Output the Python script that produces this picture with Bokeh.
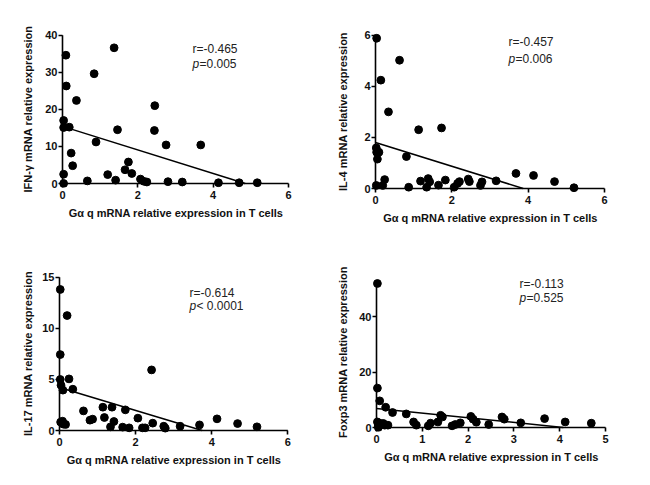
from bokeh.plotting import figure
from bokeh.layouts import column, row
from bokeh.models import FixedTicker, Label, Range1d
from bokeh.embed import file_html
from bokeh.resources import INLINE

FONT = "Liberation Sans"
X_TITLE = "Gα q mRNA relative expression in T cells"

# ---------------- data ----------------
ifn_x = [0.09, 0.10, 0.37, 0.03, 0.03, 0.18, 0.23, 0.27, 0.03, 0.03, 1.37, 0.84, 0.89, 0.66,
         1.20, 1.41, 1.46, 1.66, 1.75, 1.84, 2.07, 2.16, 2.24, 2.45, 2.44, 2.75, 2.80, 3.18,
         3.67, 4.14, 4.69, 5.17]
ifn_y = [34.6, 26.3, 22.4, 17.0, 15.1, 15.2, 8.2, 4.8, 2.5, 0.0, 36.6, 29.6, 11.2, 0.7,
         2.4, 0.9, 14.5, 3.7, 5.8, 2.7, 1.2, 0.6, 0.4, 21.0, 14.3, 10.4, 0.5, 0.4,
         10.4, 0.2, 0.2, 0.2]
ifn_fit_x = [0.0, 4.85]
ifn_fit_y = [15.4, 0.0]

il4_x = [0.03, 0.63, 0.14, 0.34, 1.13, 1.73, 0.02, 0.03, 0.09, 0.05, 0.81, 0.02, 0.19, 0.24,
         0.87, 1.18, 1.38, 1.42, 1.34, 1.65, 1.83, 2.06, 2.15, 2.20, 2.43, 2.46, 2.75, 2.79,
         3.16, 3.68, 4.14, 4.69, 5.20]
il4_y = [5.88, 5.02, 4.24, 3.00, 2.30, 2.37, 1.59, 1.42, 1.42, 1.15, 1.25, 0.12, 0.12, 0.35,
         0.05, 0.29, 0.39, 0.26, 0.05, 0.13, 0.33, 0.05, 0.20, 0.27, 0.37, 0.27, 0.12, 0.26,
         0.30, 0.59, 0.51, 0.27, 0.03]
il4_fit_x = [0.0, 3.87]
il4_fit_y = [1.80, 0.0]

il17_x = [0.02, 0.20, 0.02, 0.02, 0.25, 0.04, 0.09, 0.35, 0.03, 0.08, 0.10, 0.16, 0.63, 0.80,
          0.87, 1.14, 1.18, 1.38, 1.43, 1.34, 1.66, 1.73, 1.83, 2.06, 2.18, 2.25, 2.45, 2.42,
          2.74, 2.78, 3.17, 3.68, 4.14, 4.68, 5.19]
il17_y = [13.8, 11.25, 7.43, 4.99, 5.05, 4.43, 3.95, 4.04, 0.82, 0.91, 0.62, 0.59, 1.92, 1.01,
          1.11, 2.28, 1.27, 2.28, 0.88, 0.36, 0.33, 2.02, 0.26, 1.21, 0.26, 0.26, 0.72, 5.93,
          0.42, 0.23, 0.42, 0.55, 1.14, 0.68, 0.36]
il17_fit_x = [0.0, 3.75]
il17_fit_y = [4.2, 0.0]

foxp3_x = [0.02, 0.02, 0.07, 0.20, 0.35, 0.65, 0.02, 0.04, 0.09, 0.15, 0.18, 0.25, 0.04, 0.81,
           0.87, 1.13, 1.18, 1.34, 1.40, 1.44, 1.65, 1.72, 1.83, 2.06, 2.11, 2.18, 2.45, 2.74,
           2.79, 3.15, 3.67, 4.12, 4.69]
foxp3_y = [51.9, 14.2, 9.6, 7.3, 5.4, 4.9, 2.0, 0.84, 1.44, 1.44, 0.84, 0.84, 0.0, 2.0,
           0.84, 0.6, 1.56, 2.0, 4.4, 3.8, 0.6, 1.08, 1.68, 4.0, 3.0, 1.9, 1.08, 3.8,
           3.0, 1.68, 3.2, 2.0, 1.56]
foxp3_fit_x = [0.0, 4.08]
foxp3_fit_y = [6.85, 0.0]

ticks_x6 = [0, 2, 4, 6]
ticks_x5 = [0, 1, 2, 3, 4, 5]
ticks_ifn = [0, 10, 20, 30, 40]
ticks_il4 = [0, 2, 4, 6]
ticks_il17 = [0, 5, 10, 15]
ticks_foxp3 = [0, 20, 40]

PAD = 4  # px between frame edge and the zero axes (= tick length)


def panel(x, y, fx, fy, ylabel, xticks, yticks, xmax, ymax, r_txt, p_txt,
          fig_l, fig_t, fig_r, fig_b, fr_t,
          x0px, sx, y0px, sy, txt_px, r_py, p_py, ylab_standoff):
    fr_l = x0px - PAD
    fr_b = y0px + PAD
    fr_r = int(round(x0px + xmax * sx + 5))
    fr_w = fr_r - fr_l
    fr_h = fr_b - fr_t
    x_start = -PAD / sx
    x_end = (fr_r - x0px) / sx
    y_start = -PAD / sy
    y_end = (y0px - fr_t) / sy
    p = figure(frame_width=fr_w, frame_height=fr_h,
               x_range=Range1d(x_start, x_end), y_range=Range1d(y_start, y_end),
               min_border_left=fr_l - fig_l, min_border_top=fr_t - fig_t,
               min_border_right=fig_r - fr_r, min_border_bottom=fig_b - fr_b,
               toolbar_location=None, output_backend="svg")
    p.grid.grid_line_color = None
    p.outline_line_color = None

    p.xaxis.bounds = (0, xmax)
    p.yaxis.bounds = (0, ymax)
    p.xaxis.ticker = FixedTicker(ticks=xticks)
    p.yaxis.ticker = FixedTicker(ticks=yticks)
    for ax in (p.xaxis, p.yaxis):
        ax.axis_line_color = None
        ax.major_tick_line_width = 1.6
        ax.major_tick_line_color = "black"
        ax.major_tick_out = 0
        ax.major_tick_in = PAD
        ax.minor_tick_line_color = None
        ax.major_label_text_font = FONT
        ax.major_label_text_font_style = "bold"
        ax.major_label_text_font_size = "11px"
        ax.major_label_text_color = "#111111"
        ax.axis_label_text_font = FONT
        ax.axis_label_text_font_style = "bold"
        ax.axis_label_text_font_size = "11px"
        ax.axis_label_text_color = "#111111"
    p.xaxis.major_label_standoff = 3
    p.yaxis.major_label_standoff = 1
    p.xaxis.axis_label = X_TITLE
    p.yaxis.axis_label = ylabel
    p.xaxis.axis_label_standoff = 5
    p.yaxis.axis_label_standoff = ylab_standoff

    # the zero axes themselves
    p.segment(x0=[0, 0], y0=[0, 0], x1=[xmax, 0], y1=[0, ymax],
              line_color="black", line_width=1.6)

    p.line(fx, fy, line_color="black", line_width=1.5)
    p.scatter(x, y, size=7.8, fill_color="black", line_color="black")

    tx = (txt_px - x0px) / sx
    p.add_layout(Label(x=tx, y=(y0px - r_py) / sy, text=r_txt, text_font=FONT,
                       text_font_size="12px", text_color="#222222",
                       text_baseline="middle", text_align="left"))
    p.add_layout(Label(x=tx, y=(y0px - p_py) / sy, text="p", text_font=FONT,
                       text_font_style="italic",
                       text_font_size="12px", text_color="#222222",
                       text_baseline="middle", text_align="left"))
    p.add_layout(Label(x=tx, y=(y0px - p_py) / sy, x_offset=7, text=p_txt, text_font=FONT,
                       text_font_size="12px", text_color="#222222",
                       text_baseline="middle", text_align="left"))
    return p


# page coordinates: the layout starts at page (0, 0)
p1 = panel(ifn_x, ifn_y, ifn_fit_x, ifn_fit_y, "IFN-γ mRNA relative expression",
           ticks_x6, ticks_ifn, 6, 40, "r=-0.465", "=0.005",
           0, 0, 318, 245, 30,
           62, 37.67, 183, 3.7075, 192, 48, 63, 8)
p2 = panel(il4_x, il4_y, il4_fit_x, il4_fit_y, "IL-4 mRNA relative expression",
           ticks_x6, ticks_il4, 6, 6, "r=-0.457", "=0.006",
           318, 0, 642, 245, 26,
           375, 38.17, 184, 25.55, 508, 37, 54, 12)
p3 = panel(il17_x, il17_y, il17_fit_x, il17_fit_y, "IL-17 mRNA relative expression",
           ticks_x6, ticks_il17, 6, 15, "r=-0.614", "< 0.0001",
           0, 245, 318, 477, 272,
           59, 38.05, 430, 10.22, 189, 292, 305, 5)
p4 = panel(foxp3_x, foxp3_y, foxp3_fit_x, foxp3_fit_y, "Foxp3 mRNA relative expression",
           ticks_x5, ticks_foxp3, 5, 52, "r=-0.113", "=0.525",
           318, 245, 642, 477, 272,
           376, 45.8, 427, 2.775, 519, 283, 297, 7)

layout = column(row(p1, p2, spacing=0), row(p3, p4, spacing=0), spacing=0)
open("out.html", "w").write(file_html(layout, INLINE))
